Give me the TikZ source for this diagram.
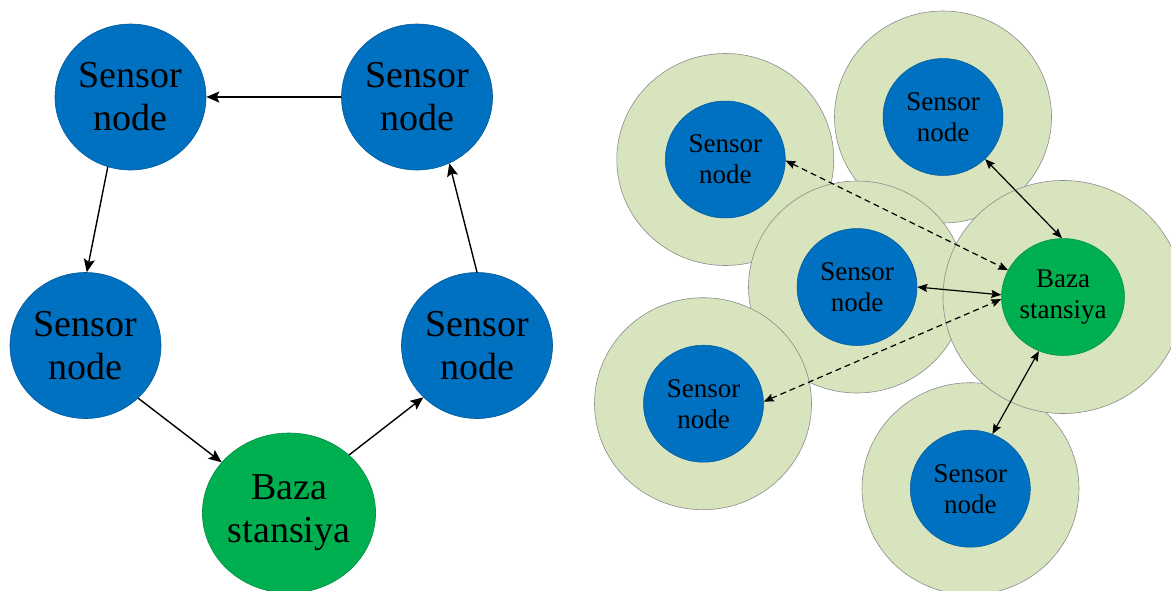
\documentclass[tikz,border=0pt]{standalone}
\usepackage{fontspec}
\setmainfont{Liberation Serif}
\usetikzlibrary{shapes.geometric,arrows.meta}
\definecolor{nodeblue}{HTML}{0070C0}
\definecolor{basegreen}{HTML}{00B050}
\definecolor{rangefill}{HTML}{D7E4BD}
\definecolor{rangeline}{HTML}{8C8C8C}
\begin{document}
\begin{tikzpicture}[x=1pt,y=-1pt,
  bignode/.style={ellipse,inner sep=0pt,minimum width=151pt,minimum height=146pt,
    fill=nodeblue,draw=nodeblue!80!black,line width=0.6pt,align=center,
    font=\fontsize{38}{43}\selectfont},
  bigbase/.style={bignode,fill=basegreen,draw=basegreen!80!black,
    minimum width=166pt,minimum height=160pt},
  coverage/.style={ellipse,inner sep=0pt,fill=rangefill,draw=rangeline,line width=0.6pt,
    minimum width=217pt,minimum height=212pt},
  smallnode/.style={ellipse,inner sep=0pt,minimum width=120pt,minimum height=117pt,
    fill=nodeblue,draw=nodeblue!80!black,line width=0.5pt,align=center,
    font=\fontsize{27}{31}\selectfont},
  smallbase/.style={smallnode,fill=basegreen,draw=basegreen!80!black},
  ringarrow/.style={line width=1.4pt,-{Stealth[length=13pt,width=11pt,inset=2.5pt]}},
  linkarrow/.style={line width=1.2pt,
    {Stealth[length=10pt,width=8pt,inset=1.5pt]}-{Stealth[length=10pt,width=8pt,inset=1.5pt]}},
  weaklink/.style={linkarrow,dash pattern=on 6pt off 4pt}]
\useasboundingbox (0,0) rectangle (1171,590);

% ring topology
\node[bignode] (tl) at (130.5,97) {Sensor\\node};
\node[bignode] (tr) at (417,97) {Sensor\\node};
\node[bignode] (ml) at (85.5,345.5) {Sensor\\node};
\node[bignode] (mr) at (477,345.5) {Sensor\\node};
\node[bigbase] (bs) at (289,513) {Baza\\stansiya};

\draw[ringarrow] (tr.180) -- (tl.0);
\draw[ringarrow] (tl.252) -- (ml.89);
\draw[ringarrow] (ml.315.5) -- (bs.143.3);
\draw[ringarrow] (bs.44.3) -- (mr.224.5);
\draw[ringarrow] (mr.90) -- (tr.296.6);

% coverage areas
\node[coverage] (ra) at (725.3,159.5) {};
\node[coverage] (rb) at (943,117) {};
\node[coverage] (rc) at (857,287) {};
\node[coverage] (re) at (703,403.7) {};
\node[coverage] (rf) at (970.5,488.7) {};
\node[coverage,minimum width=240pt,minimum height=233pt] (rd) at (1063,297) {};

% cluster nodes
\node[smallnode] (na) at (725.3,159.5) {Sensor\\node};
\node[smallnode] (nb) at (943,117) {Sensor\\node};
\node[smallnode] (nc) at (857,287) {Sensor\\node};
\node[smallnode] (ne) at (703.5,403.7) {Sensor\\node};
\node[smallnode] (nf) at (970.3,488.7) {Sensor\\node};
\node[smallbase] (nd) at (1063,297) {Baza\\stansiya};

\draw[weaklink] (na.-1) -- (nd.154);
\draw[linkarrow] (nc.0) -- (nd.178);
\draw[weaklink] (ne.2) -- (nd.182);
\draw[linkarrow] (nb.315.7) -- (nd.91.3);
\draw[linkarrow] (nd.246.7) -- (nf.68.9);
\end{tikzpicture}
\end{document}
